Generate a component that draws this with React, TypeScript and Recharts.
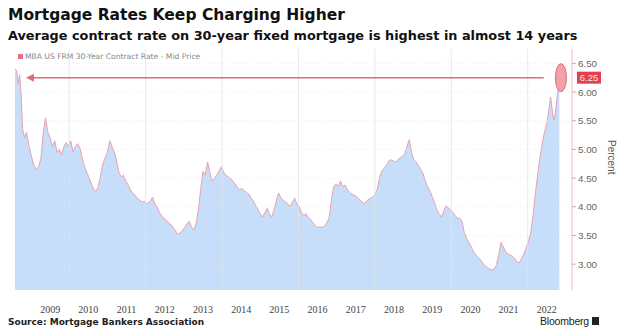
import { AreaChart, Area, XAxis, YAxis, ReferenceLine, ReferenceDot } from 'recharts';

// decimal years
const dates = [
  2008.58, 2008.62, 2008.66, 2008.7, 2008.74, 2008.78, 2008.83, 2008.88, 2008.95,
  2009.02, 2009.08, 2009.14, 2009.2, 2009.26, 2009.32, 2009.38, 2009.44, 2009.5, 2009.56, 2009.62, 2009.68, 2009.74, 2009.8, 2009.86, 2009.92, 2009.98,
  2010.04, 2010.1, 2010.16, 2010.22, 2010.28, 2010.34, 2010.4, 2010.46, 2010.52, 2010.58, 2010.64, 2010.7, 2010.76, 2010.82, 2010.88, 2010.94,
  2011.0, 2011.06, 2011.12, 2011.18, 2011.24, 2011.3, 2011.36, 2011.42, 2011.48, 2011.54, 2011.6, 2011.66, 2011.72, 2011.78, 2011.84, 2011.9, 2011.96,
  2012.04, 2012.12, 2012.18, 2012.24, 2012.3, 2012.36, 2012.44, 2012.52, 2012.6, 2012.68, 2012.76, 2012.84, 2012.92,
  2013.0, 2013.08, 2013.14, 2013.2, 2013.26, 2013.32, 2013.38, 2013.44, 2013.5, 2013.56, 2013.62, 2013.68, 2013.74, 2013.8, 2013.86, 2013.92, 2013.98,
  2014.04, 2014.1, 2014.16, 2014.22, 2014.28, 2014.34, 2014.4, 2014.46, 2014.52, 2014.58, 2014.64, 2014.7, 2014.76, 2014.82, 2014.88, 2014.94,
  2015.0, 2015.06, 2015.12, 2015.18, 2015.24, 2015.3, 2015.36, 2015.42, 2015.48, 2015.54, 2015.6, 2015.66, 2015.72, 2015.78, 2015.84, 2015.9, 2015.96,
  2016.02, 2016.08, 2016.14, 2016.2, 2016.26, 2016.32, 2016.38, 2016.44, 2016.5, 2016.56, 2016.62, 2016.68, 2016.74, 2016.8, 2016.86, 2016.92, 2016.98,
  2017.04, 2017.1, 2017.16, 2017.22, 2017.28, 2017.34, 2017.4, 2017.46, 2017.52, 2017.58, 2017.64, 2017.7, 2017.76, 2017.82, 2017.88, 2017.94,
  2018.0, 2018.06, 2018.12, 2018.18, 2018.24, 2018.3, 2018.36, 2018.42, 2018.48, 2018.54, 2018.6, 2018.66, 2018.72, 2018.78, 2018.84, 2018.9, 2018.96,
  2019.02, 2019.08, 2019.14, 2019.2, 2019.26, 2019.32, 2019.38, 2019.44, 2019.5, 2019.56, 2019.62, 2019.68, 2019.74, 2019.8, 2019.86, 2019.92, 2019.98,
  2020.04, 2020.1, 2020.16, 2020.22, 2020.28, 2020.34, 2020.4, 2020.46, 2020.52, 2020.58, 2020.64, 2020.7, 2020.76, 2020.82, 2020.88, 2020.94,
  2021.0, 2021.06, 2021.12, 2021.18, 2021.24, 2021.3, 2021.36, 2021.42, 2021.48, 2021.54, 2021.6, 2021.66, 2021.72, 2021.78, 2021.84, 2021.9, 2021.96,
  2022.02, 2022.08, 2022.14, 2022.2, 2022.26, 2022.32, 2022.38, 2022.44, 2022.5, 2022.56, 2022.6, 2022.64, 2022.68, 2022.72, 2022.76, 2022.8, 2022.83,
];

const rates = [
  6.4, 6.38, 6.15, 6.3, 5.95, 5.35, 5.2, 5.3, 5.05,
  4.85, 4.72, 4.65, 4.7, 4.85, 5.3, 5.55, 5.3, 5.2, 5.05, 5.15, 4.95, 5.0, 4.9, 5.05, 5.12, 5.05,
  5.15, 4.95, 5.05, 5.1, 5.02, 4.85, 4.7, 4.6, 4.5, 4.4, 4.3, 4.27, 4.35, 4.55, 4.75, 4.85,
  4.95, 5.15, 5.05, 4.95, 4.8, 4.6, 4.52, 4.55, 4.45, 4.38, 4.3, 4.24, 4.2, 4.15, 4.12, 4.08, 4.1,
  4.05, 4.1, 4.17, 4.05, 4.0, 3.9, 3.82, 3.78, 3.72, 3.68, 3.6, 3.52, 3.55,
  3.62, 3.7, 3.75, 3.65, 3.6, 3.7, 3.95, 4.3, 4.62, 4.55, 4.78, 4.6, 4.45, 4.5, 4.55, 4.62, 4.7,
  4.6, 4.55, 4.52, 4.5, 4.45, 4.4, 4.34, 4.3, 4.32, 4.28, 4.25, 4.22, 4.15, 4.1, 4.02, 3.95,
  3.88, 3.82, 3.9, 3.97, 3.88, 3.82, 3.95, 4.1, 4.24, 4.15, 4.12, 4.08, 4.05, 4.0, 4.08, 4.15, 4.05,
  4.0, 3.9, 3.85, 3.88, 3.8, 3.78, 3.72, 3.68, 3.64, 3.65, 3.64, 3.66, 3.72, 3.8, 4.1, 4.35, 4.4,
  4.35, 4.45, 4.35, 4.38, 4.3, 4.25, 4.22, 4.2, 4.18, 4.14, 4.1, 4.06, 4.08, 4.12, 4.15, 4.17,
  4.2, 4.3, 4.5, 4.62, 4.67, 4.72, 4.8, 4.82, 4.8, 4.78, 4.82, 4.85, 4.88, 4.92, 5.05, 5.17, 4.95,
  4.82, 4.78, 4.72, 4.65, 4.58, 4.45, 4.35, 4.28, 4.18, 4.08, 3.95, 3.88, 3.82, 3.92, 4.02, 3.98, 3.95,
  3.9, 3.85, 3.8, 3.8, 3.75, 3.55, 3.45, 3.38, 3.3, 3.22, 3.16, 3.12, 3.08, 3.02, 2.98, 2.94,
  2.92, 2.9, 2.92, 2.98, 3.15, 3.38, 3.3, 3.22, 3.18, 3.16, 3.14, 3.1, 3.04, 3.02, 3.1, 3.18, 3.28,
  3.4, 3.55, 3.85, 4.22, 4.55, 4.86, 5.1, 5.3, 5.45, 5.72, 5.91, 5.7, 5.51, 5.6, 5.86, 6.05, 6.25,
];

const yearLabels = [2009, 2010, 2011, 2012, 2013, 2014, 2015, 2016, 2017, 2018, 2019, 2020, 2021, 2022];
const gridYears = [2010, 2012, 2014, 2016, 2018, 2020, 2022];
const yTicks = [3, 3.5, 4, 4.5, 5, 5.5, 6, 6.5];
const latest = 6.25;

const data = dates.map((t, i) => ({ t, v: rates[i] }));

const sans = '"Liberation Sans", Arial, sans-serif';
const wide = '"DejaVu Sans", sans-serif';

function ArrowLine(props: any) {
  const { x1, y1, x2, y2 } = props;
  const left = Math.min(x1, x2);
  return (
    <g>
      <line x1={x1} y1={y1} x2={x2} y2={y2} stroke="#e36a78" strokeWidth={1.5} />
      <polygon points={`${left - 2},${y1} ${left + 6},${y1 - 4} ${left + 6},${y1 + 4}`} fill="#e36a78" />
    </g>
  );
}

export default function App() {
  return (
    <div style={{ position: 'absolute', left: 0, top: 0, width: 624, height: 327, background: '#fff', fontFamily: sans, overflow: 'hidden' }}>
      <div style={{ position: 'absolute', left: 8, top: 6, fontSize: 15.5, fontWeight: 'bold', fontFamily: wide, color: '#111', whiteSpace: 'nowrap' }}>
        Mortgage Rates Keep Charging Higher
      </div>
      <div style={{ position: 'absolute', left: 8, top: 28, fontSize: 12.85, fontWeight: 'bold', fontFamily: wide, color: '#111', whiteSpace: 'nowrap' }}>
        Average contract rate on 30-year fixed mortgage is highest in almost 14 years
      </div>
      <div style={{ position: 'absolute', left: 18, top: 52, fontSize: 7.6, fontFamily: wide, color: '#888', whiteSpace: 'nowrap' }}>
        <span style={{ display: 'inline-block', width: 5, height: 5, background: '#e8707e', marginRight: 2 }} />
        MBA US FRM 30-Year Contract Rate - Mid Price
      </div>

      <AreaChart width={624} height={327} data={data} margin={{ top: 49, right: 0, left: 15, bottom: 7 }}>
        <XAxis
          dataKey="t"
          type="number"
          domain={[2008.58, 2023.16]}
          ticks={yearLabels.map((y) => y + 0.5)}
          tickFormatter={(v: number) => String(Math.floor(v))}
          axisLine={false}
          tickLine={false}
          tickSize={0}
          tickMargin={16}
          height={30}
          allowDataOverflow
          tick={{ fontSize: 10, fill: '#444', fontFamily: '"Liberation Serif", serif' }}
        />
        <YAxis
          orientation="right"
          type="number"
          domain={[2.55, 6.75]}
          ticks={yTicks}
          allowDataOverflow
          width={52}
          tickFormatter={(v: number) => v.toFixed(2)}
          axisLine={{ stroke: '#f0b8c0' }}
          tickLine={{ stroke: '#e8a0aa' }}
          tickSize={4}
          tick={{ fontSize: 9.8, fill: '#666' }}
        />
        <Area
          type="linear"
          dataKey="v"
          stroke="#eaa0b0"
          strokeWidth={1}
          fill="#c6defa"
          fillOpacity={1}
          dot={false}
          activeDot={false}
          isAnimationActive={false}
        />
        {yTicks.map((v) => (
          <ReferenceLine key={'h' + v} y={v} stroke="#e6e6e6" strokeOpacity={0.7} strokeDasharray="1 2" />
        ))}
        {gridYears.map((y) => (
          <ReferenceLine key={'v' + y} x={y} stroke="#e2e2e2" strokeOpacity={0.8} />
        ))}
        <ReferenceLine
          segment={[{ x: 2008.92, y: latest }, { x: 2022.42, y: latest }]}
          shape={(p: any) => <ArrowLine {...p} />}
        />
        <ReferenceDot
          x={2022.87}
          y={latest}
          ifOverflow="visible"
          shape={(p: any) => <ellipse cx={p.cx} cy={p.cy} rx={5.5} ry={14} fill="#f4a0aa" stroke="#e36a78" strokeWidth={1} />}
        />
        <ReferenceDot
          x={2023.16}
          y={latest}
          ifOverflow="visible"
          shape={(p: any) => (
            <g>
              <rect x={p.cx + 5} y={p.cy - 6} width={24} height={12} fill="#e2404e" />
              <text x={p.cx + 17} y={p.cy + 3.5} textAnchor="middle" fontSize={9.5} fill="#ffe0e0" fontFamily={sans}>
                {latest.toFixed(2)}
              </text>
            </g>
          )}
        />
      </AreaChart>

      <div style={{ position: 'absolute', left: 606, top: 140, fontSize: 10, color: '#555', writingMode: 'vertical-rl' }}>Percent</div>
      <div style={{ position: 'absolute', left: 8, top: 317, fontSize: 9, fontWeight: 'bold', fontFamily: wide, color: '#222', whiteSpace: 'nowrap' }}>
        Source: Mortgage Bankers Association
      </div>
      <div style={{ position: 'absolute', left: 540, top: 315, fontSize: 10.5, color: '#222', whiteSpace: 'nowrap', letterSpacing: -0.2 }}>
        Bloomberg
        <span style={{ display: 'inline-block', width: 7, height: 8, background: '#222', marginLeft: 3 }} />
      </div>
    </div>
  );
}
